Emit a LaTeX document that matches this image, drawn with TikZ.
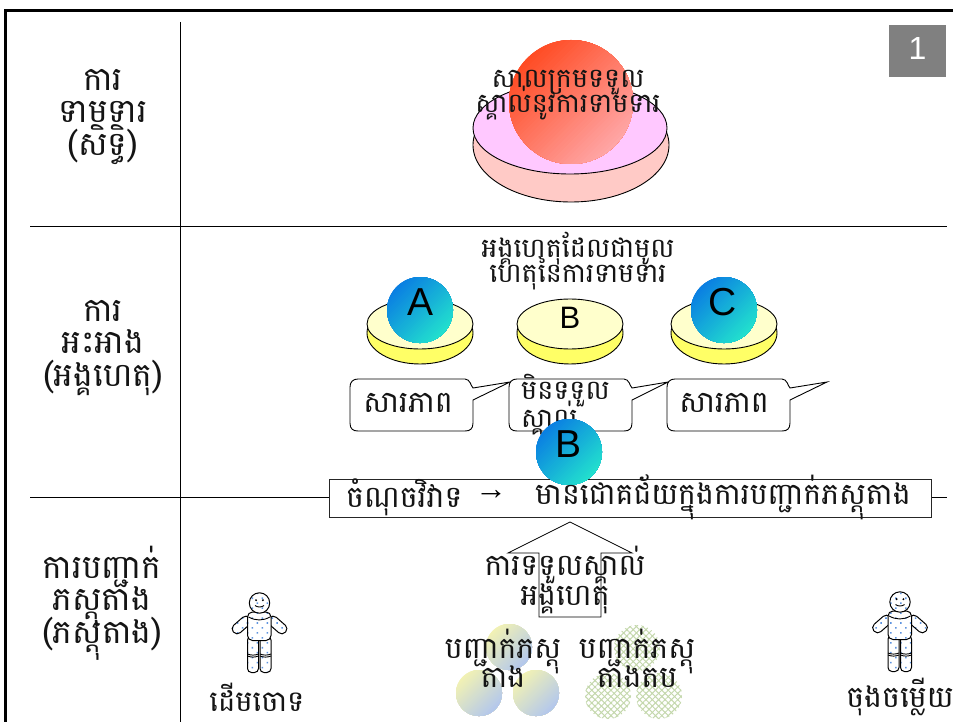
\documentclass[tikz,border=0pt]{standalone}
\usepackage{fontspec}
\setmainfont{Liberation Sans}
\newfontfamily\khmerfont[Script=Khmer]{Battambang}
\usetikzlibrary{patterns.meta}
\lineskiplimit=-100pt
\normallineskiplimit=-100pt
\definecolor{diskpinktop}{HTML}{FFC8FF}
\definecolor{diskpinkside}{HTML}{FFCAC6}
\definecolor{diskyellowtop}{HTML}{FFFFCC}
\definecolor{diskyellowside}{HTML}{FFFF66}
\definecolor{grayboxc}{HTML}{808080}
\definecolor{dotblue}{HTML}{5E94E0}
\definecolor{latticegreen}{HTML}{C4D8AC}
\definecolor{ballA}{HTML}{0A7FE2}
\definecolor{ballB}{HTML}{22E0CE}
\definecolor{paleA}{HTML}{F2F2B4}
\definecolor{paleB}{HTML}{B4C8EC}
\definecolor{redA}{HTML}{FF4C24}
\definecolor{redB}{HTML}{FFA6A6}
\tikzset{
  x=1pt,y=-1pt,
  frameline/.style={line width=3pt,black},
  gridline/.style={line width=0.9pt,black},
  kh/.style={inner sep=0pt,align=center,text=black!92,font=\khmerfont\fontsize{#1}{30}\selectfont},
  kh/.default=33,
  disklabel/.style={inner sep=0pt,font=\fontsize{#1}{#1}\selectfont},
  outline/.style={draw=black,line width=0.9pt},
  dotted skin/.style={draw=black,line width=1pt,preaction={fill=white},
    pattern={Dots[distance=7pt,radius=1.1pt,angle=45]},pattern color=dotblue},
}
\newcommand{\gradcircle}[5]{% x, y, radius, start colour, end colour
  \begin{scope}
    \clip (#1,#2) circle[radius=#3pt];
    \begin{scope}[shift={(#1,#2)},rotate=-45]
      \fill[#4] (-#3-2,-#3-2) rectangle (#3+2,#3+2);
      \foreach \i in {0,...,39}{
        \pgfmathtruncatemacro{\pc}{\i*100/39}
        \pgfmathsetmacro{\xs}{-#3+2*#3*\i/40}
        \fill[#5!\pc!#4] (\xs,-#3-2) rectangle (#3+2,#3+2);
      }
    \end{scope}
  \end{scope}}
\newcommand{\persondraw}[2]{%
  \begin{scope}[shift={(#1,#2)}]
    \draw[dotted skin,rounded corners=4.6pt] (-6.7,18.7) -- (-22.7,32.7) -- (-29.3,25.3) -- (-13.3,11.3) -- cycle;
    \draw[dotted skin,rounded corners=4.6pt] (6.7,18.7) -- (22.7,32.7) -- (29.3,25.3) -- (13.3,11.3) -- cycle;
    \draw[dotted skin,rounded corners=4pt] (-12,33) rectangle (-1,69.5);
    \draw[dotted skin,rounded corners=4pt] (0.5,33) rectangle (11.5,69.5);
    \draw[line width=0.9pt] (-12,51) to[bend right=20] (-1,51) (-12,53) to[bend right=20] (-1,53)
      (0.5,51) to[bend right=20] (11.5,51) (0.5,53) to[bend right=20] (11.5,53);
    \draw[dotted skin,rounded corners=5pt] (-12,9) -- (11.5,9) -- (11.5,37.5) -- (-12,37.5) -- cycle;
    \draw[line width=0.9pt] (-11,14) to[bend right=28] (10.5,14);
    \draw[dotted skin] (0,0) circle[radius=10.2pt];
    \fill (-3.4,-2.8) circle[radius=1.1pt] (3.4,-2.8) circle[radius=1.1pt];
    \draw[line width=0.9pt] (-4.5,2.5) to[bend right=35] (4.5,2.5);
  \end{scope}}
\newcommand{\calloutshape}[2]{% left x, tip x
  \draw[outline,fill=white] (#1+8,379) -- (#1+115,379)
    .. controls (#1+120,379) and (#1+121,386) .. (#1+123,388)
    -- (#2,382) -- (#1+123,400) -- (#1+123,423)
    .. controls (#1+123,429) and (#1+120,431) .. (#1+115,431)
    -- (#1+8,431) .. controls (#1+3,431) and (#1,429) .. (#1,423)
    -- (#1,387) .. controls (#1,382) and (#1+3,379) .. (#1+8,379) -- cycle;}
\begin{document}
\begin{tikzpicture}
\useasboundingbox (0,0) rectangle (953,722);
\fill[white] (0,0) rectangle (953,722);
% frame and grid
\draw[frameline] (5.5,724) -- (5.5,10.5) -- (955,10.5);
\draw[gridline] (180.5,22) -- (180.5,724);
\draw[gridline] (30,226.5) -- (947,226.5);
\draw[gridline] (30,497.5) -- (947,497.5);
% page number
\node[fill=grayboxc,minimum width=57pt,minimum height=52pt,inner sep=0pt,text=white,font=\fontsize{32}{32}\selectfont] (pageno) at (917.5,51) {\raisebox{6pt}{1}};
% row headings
\node[kh] (h1) at (103,117) {ការ\\[2.5pt]ទាមទារ\\[2.5pt](សិទ្ធិ)};
\node[kh] (h2) at (103,348) {ការ\\[2.5pt]អះអាង\\[2.5pt](អង្គហេតុ)};
\node[kh] (h3) at (102,603) {ការបញ្ជាក់\\[2.5pt]ភស្តុតាង\\[2.5pt](ភស្តុតាង)};
% top disk
\draw[outline,fill=diskpinkside] (571,145) ellipse[x radius=98pt,y radius=57pt];
\draw[outline,fill=diskpinktop] (570,128) ellipse[x radius=97pt,y radius=46pt];
\gradcircle{571}{102}{62}{redA}{redB}
\node[kh=27] (judgement) at (568,95) {សាលក្រមទទួល\\[-5pt]ស្គាល់នូវការទាមទារ};
% middle disks
\foreach \cx in {420,570,724}{
  \draw[outline,fill=diskyellowside] (\cx,333) ellipse[x radius=53pt,y radius=31pt];
  \draw[outline,fill=diskyellowtop] (\cx,324) ellipse[x radius=53pt,y radius=25pt];
}
\gradcircle{420}{310}{33}{ballA}{ballB}
\gradcircle{724}{310}{33}{ballA}{ballB}
\node[disklabel=39] (lA) at (421,302) {A};
\node[disklabel=39] (lC) at (723,302) {C};
\node[disklabel=31] (lB) at (570,318) {B};
\node[kh=27] (reason) at (578,261) {អង្គហេតុដែលជាមូល\\[-5pt]ហេតុនៃការទាមទារ};
% callouts
\calloutshape{350}{510}
\calloutshape{509}{668}
\calloutshape{667}{827}
\node[kh=30] (c1) at (408,403) {សារភាព};
\node[kh=27,align=left,anchor=west] (c2) at (521,405) {មិនទទួល\\[-2pt]ស្គាល់};
\node[kh=30] (c3) at (724,403) {សារភាព};
% issue box
\draw[line width=0.9pt,draw=black!85,fill=white] (329.5,479.5) rectangle (931,517.5);
\gradcircle{569}{452}{33}{ballA}{ballB}
\node[disklabel=39] (lB2) at (568,444) {B};
\node[kh=30,anchor=west] (issue) at (346,497) {ចំណុចវិវាទ};
\node[inner sep=0pt,font=\fontsize{32}{32}\selectfont] (arrowsym) at (491,495) {→};
\node[kh=30,anchor=west] (success) at (535,497) {មានជោគជ័យក្នុងការបញ្ជាក់ភស្តុតាង};
% up arrow
\draw[line width=0.8pt] (508,553) -- (570,522) -- (632,553) -- (601,553) -- (601,617) -- (539,617) -- (539,553) -- cycle;
\node[kh=30] (admit) at (565,580) {ការទទួលស្គាល់\\អង្គហេតុ};
% evidence circles
\gradcircle{509}{647}{23}{paleA}{paleB}
\gradcircle{479}{693}{23}{paleA}{paleB}
\gradcircle{536}{693}{23}{paleA}{paleB}
\foreach \px/\py in {637/648,608/696,659/696}{
  \path[pattern={Lines[angle=45,distance=4.5pt,line width=1pt]},pattern color=latticegreen] (\px,\py) circle[radius=23pt];
  \path[pattern={Lines[angle=-45,distance=4.5pt,line width=1pt]},pattern color=latticegreen] (\px,\py) circle[radius=23pt];
}
\node[kh=30] (ev1) at (503,658) {បញ្ជាក់ភស្តុ\\[-1pt]តាង};
\node[kh=30] (ev2) at (637,658) {បញ្ជាក់ភស្តុ\\[-1pt]តាងតប};
% people
\persondraw{259.5}{603}
\persondraw{900}{602}
\node[kh=29] (plaintiff) at (257,697) {ដើមចោទ};
\node[kh=30] (defendant) at (900,697) {ចុងចម្លើយ};
\end{tikzpicture}
\end{document}
